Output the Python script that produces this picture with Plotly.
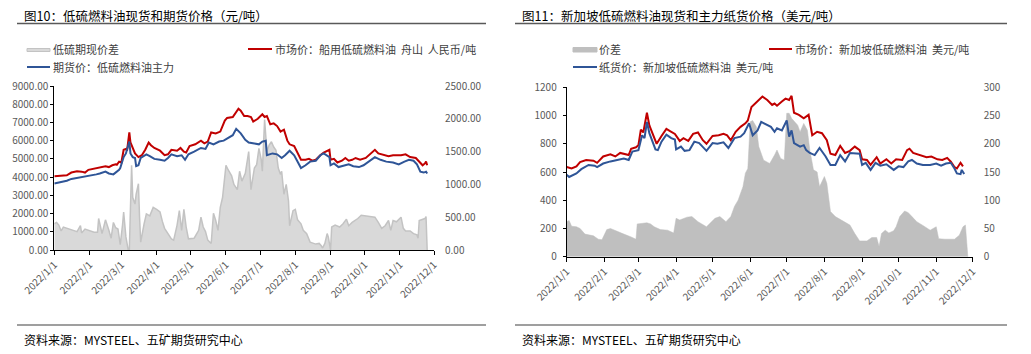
import plotly.graph_objects as go

W, H = 1031, 354
FONT = "Noto Sans CJK SC"

# ---------------- Data: left panel (Zhoushan / INE, CNY/t) ----------------
sh_spot_dates = ["2022-01-01","2022-01-06","2022-01-12","2022-01-16","2022-01-21","2022-01-25","2022-01-28","2022-01-31",
    "2022-02-07","2022-02-10","2022-02-15","2022-02-18","2022-02-21","2022-02-24","2022-02-25","2022-02-27",
    "2022-03-01","2022-03-03","2022-03-05","2022-03-06","2022-03-08","2022-03-09","2022-03-11","2022-03-13","2022-03-16",
    "2022-03-19","2022-03-22","2022-03-25","2022-03-27","2022-03-30","2022-04-04","2022-04-08","2022-04-11","2022-04-14",
    "2022-04-19","2022-04-22","2022-04-25","2022-04-27","2022-04-30","2022-05-05","2022-05-10","2022-05-13","2022-05-16",
    "2022-05-19","2022-05-23","2022-05-27","2022-05-31","2022-06-02","2022-06-07","2022-06-10","2022-06-12","2022-06-14",
    "2022-06-17","2022-06-20","2022-06-23","2022-06-25","2022-06-29","2022-07-03","2022-07-05","2022-07-07","2022-07-10",
    "2022-07-13","2022-07-16","2022-07-19","2022-07-22","2022-07-25","2022-07-27","2022-07-31","2022-08-03","2022-08-06",
    "2022-08-10","2022-08-13","2022-08-16","2022-08-19","2022-08-23","2022-08-26","2022-08-31","2022-09-01","2022-09-04",
    "2022-09-07","2022-09-11","2022-09-14","2022-09-17","2022-09-20","2022-09-23","2022-09-27","2022-10-02","2022-10-06",
    "2022-10-10","2022-10-13","2022-10-18","2022-10-22","2022-10-26","2022-11-02","2022-11-06","2022-11-10","2022-11-15",
    "2022-11-18","2022-11-21","2022-11-23","2022-11-24","2022-11-25"]
sh_spot = [4050,4080,4100,4250,4320,4300,4250,4400,
    4500,4550,4600,4550,4650,4700,4680,4850,
    4800,5500,5550,5450,6450,5900,5600,5300,5100,
    5200,5500,5900,5750,5600,5450,5200,5250,5500,
    5450,5600,5400,5350,5700,5800,6000,5850,5950,
    6450,6400,6500,7100,7250,7300,7600,7750,7650,
    7350,7350,7300,7050,7200,7450,7300,7350,6900,
    6950,6800,6500,6600,6000,5800,5700,5300,4950,
    4950,5000,4900,4950,5200,5350,5500,4950,5000,
    4800,4900,5050,4900,4950,5050,4950,5050,5300,
    5500,5300,5200,5150,5200,5200,5250,5100,5050,
    4850,4650,4750,4850,4650]

sh_fut_dates = ["2022-01-01","2022-01-06","2022-01-12","2022-01-16","2022-01-21","2022-01-27","2022-01-31",
    "2022-02-07","2022-02-10","2022-02-15","2022-02-18","2022-02-22","2022-02-27","2022-02-28",
    "2022-03-03","2022-03-05","2022-03-08","2022-03-09","2022-03-11","2022-03-13","2022-03-14","2022-03-16","2022-03-18",
    "2022-03-23","2022-03-26","2022-03-30","2022-04-04","2022-04-08","2022-04-11","2022-04-14","2022-04-19","2022-04-23",
    "2022-04-26","2022-04-29","2022-05-04","2022-05-10","2022-05-14","2022-05-17","2022-05-21","2022-05-26","2022-05-30",
    "2022-06-04","2022-06-07","2022-06-10","2022-06-14","2022-06-18","2022-06-21","2022-06-26","2022-06-30","2022-07-03",
    "2022-07-06","2022-07-07","2022-07-12","2022-07-16","2022-07-20","2022-07-23","2022-07-27","2022-07-31","2022-08-04",
    "2022-08-06","2022-08-10","2022-08-14","2022-08-19","2022-08-23","2022-08-26","2022-08-31","2022-09-01","2022-09-04",
    "2022-09-08","2022-09-13","2022-09-17","2022-09-21","2022-09-26","2022-09-30","2022-10-06","2022-10-10","2022-10-15",
    "2022-10-20","2022-10-26","2022-10-31","2022-11-05","2022-11-09","2022-11-13","2022-11-16","2022-11-19","2022-11-22",
    "2022-11-24","2022-11-25"]
sh_fut = [3650,3700,3800,3900,3950,4000,4050,
    4150,4200,4300,4200,4150,4400,4500,
    5100,5300,5950,5300,5100,5050,4600,4650,5050,
    5250,5150,5000,4950,4900,5050,5250,5150,5200,
    4950,5250,5400,5600,5550,5900,5800,5950,6000,
    6200,6300,6650,6400,6050,5900,5850,5800,5950,
    6000,5200,5300,5250,5050,5200,5450,5200,4700,
    4500,4650,4850,4900,5200,5300,5100,4650,4750,
    4550,4650,4700,4600,4550,4650,4900,5100,4950,
    4850,4800,4700,4850,4950,4900,4700,4300,4250,
    4300,4200]

sh_spread_dates = ["2022-01-01","2022-01-03","2022-01-05","2022-01-07","2022-01-09","2022-01-12","2022-01-15","2022-01-18",
    "2022-01-21","2022-01-24","2022-01-25","2022-01-28","2022-01-31","2022-02-05","2022-02-08","2022-02-09","2022-02-12",
    "2022-02-15","2022-02-18","2022-02-20","2022-02-22","2022-02-24","2022-02-26","2022-02-28","2022-03-02","2022-03-03",
    "2022-03-05","2022-03-07","2022-03-08","2022-03-09","2022-03-10","2022-03-11","2022-03-13","2022-03-14","2022-03-16",
    "2022-03-17","2022-03-18","2022-03-21","2022-03-23","2022-03-26","2022-03-29","2022-04-01","2022-04-04","2022-04-06",
    "2022-04-08","2022-04-11","2022-04-14","2022-04-16","2022-04-19","2022-04-21","2022-04-23","2022-04-25","2022-04-27",
    "2022-04-29","2022-05-04","2022-05-08","2022-05-10","2022-05-12","2022-05-14","2022-05-16","2022-05-19","2022-05-21",
    "2022-05-23","2022-05-25","2022-05-27","2022-05-29","2022-05-31","2022-06-01","2022-06-03","2022-06-06","2022-06-08",
    "2022-06-11","2022-06-13","2022-06-15","2022-06-18","2022-06-21","2022-06-23","2022-06-26","2022-06-28","2022-06-30",
    "2022-07-02","2022-07-03","2022-07-05","2022-07-07","2022-07-09","2022-07-11","2022-07-13","2022-07-15","2022-07-17",
    "2022-07-19","2022-07-20","2022-07-22","2022-07-24","2022-07-26","2022-07-27","2022-07-30","2022-08-01","2022-08-03",
    "2022-08-06","2022-08-08","2022-08-11","2022-08-14","2022-08-19","2022-08-22","2022-08-24","2022-08-25","2022-08-27",
    "2022-08-29","2022-08-30","2022-09-01","2022-09-02","2022-09-05","2022-09-09","2022-09-12","2022-09-15","2022-09-17",
    "2022-09-20","2022-09-23","2022-09-25","2022-09-28","2022-10-01","2022-10-06","2022-10-10","2022-10-13","2022-10-16",
    "2022-10-19","2022-10-22","2022-10-24","2022-10-26","2022-10-29","2022-11-02","2022-11-04","2022-11-06","2022-11-10",
    "2022-11-13","2022-11-16","2022-11-17","2022-11-18","2022-11-21","2022-11-23","2022-11-24","2022-11-25"]
sh_spread = [400,420,380,290,350,330,320,300,
    280,370,260,320,300,270,270,480,250,
    460,300,180,420,340,320,80,380,580,
    200,0,0,700,1290,800,700,850,1010,
    500,120,400,550,520,650,620,580,440,
    330,250,170,150,380,600,300,620,350,
    170,180,300,500,350,280,150,100,560,
    450,300,650,800,1100,1290,1220,1130,1000,
    920,1200,1050,1170,1500,920,1250,1300,1550,
    1380,1200,1990,1500,1600,1650,1570,1520,1250,
    1150,1200,850,1000,750,370,600,620,460,
    400,300,250,120,90,100,60,30,100,
    250,200,0,350,380,350,400,470,370,
    420,450,480,530,520,510,500,420,330,
    370,450,300,450,430,500,330,290,290,
    250,230,180,450,470,480,510,0]

# ---------------- Data: right panel (Singapore, USD/t) ----------------
sg_spot_dates = ["2022-01-01","2022-01-05","2022-01-09","2022-01-12","2022-01-17","2022-01-23","2022-01-26","2022-01-31",
    "2022-02-06","2022-02-10","2022-02-14","2022-02-21","2022-02-23","2022-02-27","2022-03-01","2022-03-03","2022-03-05",
    "2022-03-08","2022-03-10","2022-03-13","2022-03-16","2022-03-20","2022-03-24","2022-03-27","2022-03-31","2022-04-04",
    "2022-04-07","2022-04-11","2022-04-15","2022-04-19","2022-04-23","2022-04-26","2022-05-01","2022-05-06","2022-05-10",
    "2022-05-13","2022-05-16","2022-05-20","2022-05-24","2022-05-28","2022-05-30","2022-06-02","2022-06-07","2022-06-11",
    "2022-06-15","2022-06-19","2022-06-21","2022-06-23","2022-06-27","2022-06-30","2022-07-03","2022-07-05","2022-07-07",
    "2022-07-11","2022-07-15","2022-07-19","2022-07-22","2022-07-26","2022-07-30","2022-08-03","2022-08-06","2022-08-10",
    "2022-08-14","2022-08-18","2022-08-22","2022-08-26","2022-08-30","2022-09-01","2022-09-05","2022-09-08","2022-09-13",
    "2022-09-16","2022-09-21","2022-09-25","2022-09-29","2022-10-04","2022-10-08","2022-10-10","2022-10-13","2022-10-19",
    "2022-10-24","2022-10-28","2022-11-02","2022-11-06","2022-11-10","2022-11-13","2022-11-16","2022-11-18","2022-11-21",
    "2022-11-23"]
sg_spot = [635,625,640,670,685,680,665,710,
    725,710,735,720,765,775,790,900,880,
    1020,930,870,800,855,905,890,870,820,
    840,820,870,880,825,800,855,860,870,
    860,825,885,920,945,965,1060,1100,1135,
    1110,1075,1085,1070,1100,1120,1110,1140,1020,
    1005,980,1005,860,885,875,825,730,720,
    785,735,750,780,755,690,685,650,705,
    660,690,660,690,685,755,765,735,720,
    705,710,690,685,700,673,635,625,665,
    640]

sg_paper_dates = ["2022-01-01","2022-01-03","2022-01-09","2022-01-13","2022-01-19","2022-01-24","2022-01-26","2022-01-31",
    "2022-02-06","2022-02-12","2022-02-17","2022-02-21","2022-02-24","2022-03-01","2022-03-04","2022-03-06","2022-03-08",
    "2022-03-10","2022-03-15","2022-03-17","2022-03-20","2022-03-24","2022-03-28","2022-03-31","2022-04-01","2022-04-05",
    "2022-04-08","2022-04-12","2022-04-16","2022-04-20","2022-04-26","2022-05-01","2022-05-05","2022-05-10","2022-05-14",
    "2022-05-19","2022-05-24","2022-05-27","2022-05-31","2022-06-03","2022-06-07","2022-06-10","2022-06-14","2022-06-18",
    "2022-06-21","2022-06-23","2022-06-27","2022-07-01","2022-07-03","2022-07-05","2022-07-07","2022-07-12","2022-07-15",
    "2022-07-17","2022-07-20","2022-07-24","2022-07-28","2022-08-02","2022-08-06","2022-08-10","2022-08-14","2022-08-18",
    "2022-08-22","2022-08-28","2022-08-30","2022-09-01","2022-09-04","2022-09-08","2022-09-12","2022-09-16","2022-09-21",
    "2022-09-27","2022-10-01","2022-10-05","2022-10-09","2022-10-12","2022-10-16","2022-10-21","2022-10-27","2022-11-01",
    "2022-11-05","2022-11-09","2022-11-13","2022-11-16","2022-11-18","2022-11-21","2022-11-22","2022-11-24"]
sg_paper = [580,565,590,620,650,645,635,660,
    675,685,695,685,745,755,860,840,955,
    875,760,755,815,865,840,830,760,780,
    750,755,815,805,750,805,800,810,770,
    840,850,875,945,860,895,955,935,920,
    885,910,895,965,850,895,805,780,790,
    755,735,720,770,710,650,650,720,675,
    735,735,730,650,665,615,665,645,655,
    615,640,635,675,685,660,650,650,660,
    645,660,665,625,590,585,615,585]

sg_spread_dates = ["2022-01-01","2022-01-03","2022-01-05","2022-01-09","2022-01-12","2022-01-16","2022-01-23","2022-01-27",
    "2022-01-30","2022-02-03","2022-02-06","2022-02-12","2022-02-17","2022-02-23","2022-02-27","2022-02-28","2022-03-06",
    "2022-03-08","2022-03-11","2022-03-14","2022-03-19","2022-03-25","2022-03-30","2022-04-01","2022-04-04","2022-04-10",
    "2022-04-14","2022-04-19","2022-04-26","2022-05-03","2022-05-07","2022-05-12","2022-05-16","2022-05-19","2022-05-22",
    "2022-05-26","2022-05-28","2022-05-30","2022-06-01","2022-06-03","2022-06-06","2022-06-08","2022-06-12","2022-06-17",
    "2022-06-21","2022-06-23","2022-06-26","2022-06-29","2022-07-01","2022-07-03","2022-07-05","2022-07-10","2022-07-12",
    "2022-07-15","2022-07-18","2022-07-20","2022-07-23","2022-07-26","2022-07-28","2022-08-01","2022-08-03","2022-08-06",
    "2022-08-10","2022-08-16","2022-08-22","2022-08-26","2022-08-30","2022-09-05","2022-09-09","2022-09-13","2022-09-15",
    "2022-09-17","2022-09-20","2022-09-23","2022-09-27","2022-09-29","2022-10-02","2022-10-06","2022-10-09","2022-10-12",
    "2022-10-16","2022-10-22","2022-10-27","2022-11-01","2022-11-03","2022-11-08","2022-11-16","2022-11-20","2022-11-23",
    "2022-11-25","2022-11-27"]
sg_spread = [62,64,54,53,50,40,37,31,
    30,48,50,44,40,35,31,58,59,
    60,58,53,48,47,42,68,65,70,
    71,62,53,68,71,62,71,89,100,
    124,148,156,239,241,230,195,171,165,
    180,189,174,171,254,254,245,233,221,
    236,224,189,154,150,124,142,130,80,
    71,64,56,41,28,28,34,34,18,
    41,47,42,46,53,71,81,78,71,
    62,54,47,53,32,31,31,38,53,
    56,0]

# ---------------- Axis ticks ----------------
month_ticks = ["2022-01-01","2022-02-01","2022-03-01","2022-04-01","2022-05-01","2022-06-01",
               "2022-07-01","2022-08-01","2022-09-01","2022-10-01","2022-11-01","2022-12-01"]
month_labels = ["2022/1/1","2022/2/1","2022/3/1","2022/4/1","2022/5/1","2022/6/1",
                "2022/7/1","2022/8/1","2022/9/1","2022/10/1","2022/11/1","2022/12/1"]

RED = "#C00000"
BLUE = "#2F5597"

def px(x):
    return x / W

def py(y):
    return 1 - y / H

fig = go.Figure()

# left panel: spread on base axis y (right side), prices on y2 (left side, overlaying)
fig.add_trace(go.Scatter(x=sh_spread_dates, y=sh_spread, xaxis="x", yaxis="y", mode="lines",
                         fill="tozeroy", fillcolor="#d9d9d9", line=dict(color="#c3c3c3", width=1.5),
                         name="低硫期现价差"))
fig.add_trace(go.Scatter(x=sh_spot_dates, y=sh_spot, xaxis="x", yaxis="y2", mode="lines",
                         line=dict(color=RED, width=2), name="市场价：船用低硫燃料油 舟山 人民币/吨"))
fig.add_trace(go.Scatter(x=sh_fut_dates, y=sh_fut, xaxis="x", yaxis="y2", mode="lines",
                         line=dict(color=BLUE, width=2), name="期货价：低硫燃料油主力"))

# right panel
fig.add_trace(go.Scatter(x=sg_spread_dates, y=sg_spread, xaxis="x2", yaxis="y3", mode="lines",
                         fill="tozeroy", fillcolor="#bfbfbf", line=dict(color="#bfbfbf", width=0.5),
                         name="价差"))
fig.add_trace(go.Scatter(x=sg_spot_dates, y=sg_spot, xaxis="x2", yaxis="y4", mode="lines",
                         line=dict(color=RED, width=2), name="市场价：新加坡低硫燃料油 美元/吨"))
fig.add_trace(go.Scatter(x=sg_paper_dates, y=sg_paper, xaxis="x2", yaxis="y4", mode="lines",
                         line=dict(color=BLUE, width=2), name="纸货价：新加坡低硫燃料油 美元/吨"))

tickfont = dict(family=FONT, size=10, color="#595959")

xcommon = dict(type="date", range=["2022-01-01", "2022-12-01"], tickvals=month_ticks, ticktext=month_labels,
               tickangle=-45, showline=True, linecolor="#000000", linewidth=1, ticks="outside",
               ticklen=4, tickcolor="#000000", showgrid=False, zeroline=False, tickfont=tickfont,
               automargin=False)

L_dom_x = [px(54.3), px(434)]
L_dom_y = [py(250), py(86)]
R_dom_x = [px(566.7), px(972.7)]
R_dom_y = [py(256.7), py(87.3)]

fig.update_layout(
    width=W, height=H, margin=dict(l=0, r=0, t=0, b=0, autoexpand=False),
    paper_bgcolor="white", plot_bgcolor="rgba(0,0,0,0)", showlegend=False,
    font=dict(family=FONT),
    xaxis=dict(domain=L_dom_x, anchor="y", **xcommon),
    yaxis=dict(domain=L_dom_y, anchor="x", side="right", range=[0, 2500], dtick=500, tickformat=".2f",
               showgrid=False, zeroline=False, showline=False, ticks="", ticklabelstandoff=10,
               tickfont=tickfont, automargin=False),
    yaxis2=dict(overlaying="y", anchor="x", side="left", range=[0, 9000], dtick=1000, tickformat=".2f",
                showgrid=False, zeroline=False, showline=True, linecolor="#000000", linewidth=1,
                ticks="outside", ticklen=3, tickcolor="#000000", tickfont=tickfont, automargin=False),
    xaxis2=dict(domain=R_dom_x, anchor="y3", **xcommon),
    yaxis3=dict(domain=R_dom_y, anchor="x2", side="right", range=[0, 300], dtick=50,
                showgrid=False, zeroline=False, showline=False, ticks="", ticklabelstandoff=10,
                tickfont=tickfont, automargin=False),
    yaxis4=dict(overlaying="y3", anchor="x2", side="left", range=[0, 1200], dtick=200,
                showgrid=False, zeroline=False, showline=True, linecolor="#000000", linewidth=1,
                ticks="outside", ticklen=3, tickcolor="#000000", ticklabelstandoff=4,
                tickfont=tickfont, automargin=False),
)

shapes = []
annotations = []

def add_text(x, y, text, size, color):
    annotations.append(dict(x=px(x), y=py(y), xref="paper", yref="paper", text=text, showarrow=False,
                            xanchor="left", yanchor="middle", font=dict(family=FONT, size=size, color=color)))

def add_hline(x0, x1, y, color, width):
    shapes.append(dict(type="line", xref="paper", yref="paper", x0=px(x0), x1=px(x1), y0=py(y), y1=py(y),
                       line=dict(color=color, width=width)))

def add_rect(x0, x1, y0, y1, fill, border):
    shapes.append(dict(type="rect", xref="paper", yref="paper", x0=px(x0), x1=px(x1), y0=py(y1), y1=py(y0),
                       fillcolor=fill, line=dict(color=border, width=1)))

# Titles, rules, sources
add_text(22, 15, "图10：低硫燃料油现货和期货价格（元/吨）", 12.5, "#000000")
add_text(520, 15, "图11：新加坡低硫燃料油现货和主力纸货价格（美元/吨）", 12.5, "#000000")
add_hline(17, 486, 23.5, "#595959", 1.5)
add_hline(515, 1007, 23.5, "#595959", 1.5)
add_hline(17, 486, 325, "#7f7f7f", 1.5)
add_hline(515, 1007, 325, "#7f7f7f", 1.5)
add_text(22, 339, "资料来源：MYSTEEL、五矿期货研究中心", 12, "#000000")
add_text(520, 339, "资料来源：MYSTEEL、五矿期货研究中心", 12, "#000000")

# Legends (left)
add_rect(27, 50, 48.5, 51.5, "#d9d9d9", "#c3c3c3")
add_text(51, 49.5, "低硫期现价差", 11, "#404040")
add_hline(248, 272, 49, RED, 2)
add_text(273, 49.5, "市场价：船用低硫燃料油  舟山  人民币/吨", 11, "#404040")
add_hline(27, 50, 67, BLUE, 2)
add_text(51, 67.5, "期货价：低硫燃料油主力", 11, "#404040")

# Legends (right)
add_rect(573, 597, 47.5, 52, "#bfbfbf", "#bfbfbf")
add_text(597, 49.5, "价差", 11, "#404040")
add_hline(769, 792, 49, RED, 2)
add_text(793, 49.5, "市场价：新加坡低硫燃料油  美元/吨", 11, "#404040")
add_hline(573, 597, 67, BLUE, 2)
add_text(597, 67.5, "纸货价：新加坡低硫燃料油  美元/吨", 11, "#404040")

fig.update_layout(shapes=shapes, annotations=annotations)

fig.write_html("out.html")
